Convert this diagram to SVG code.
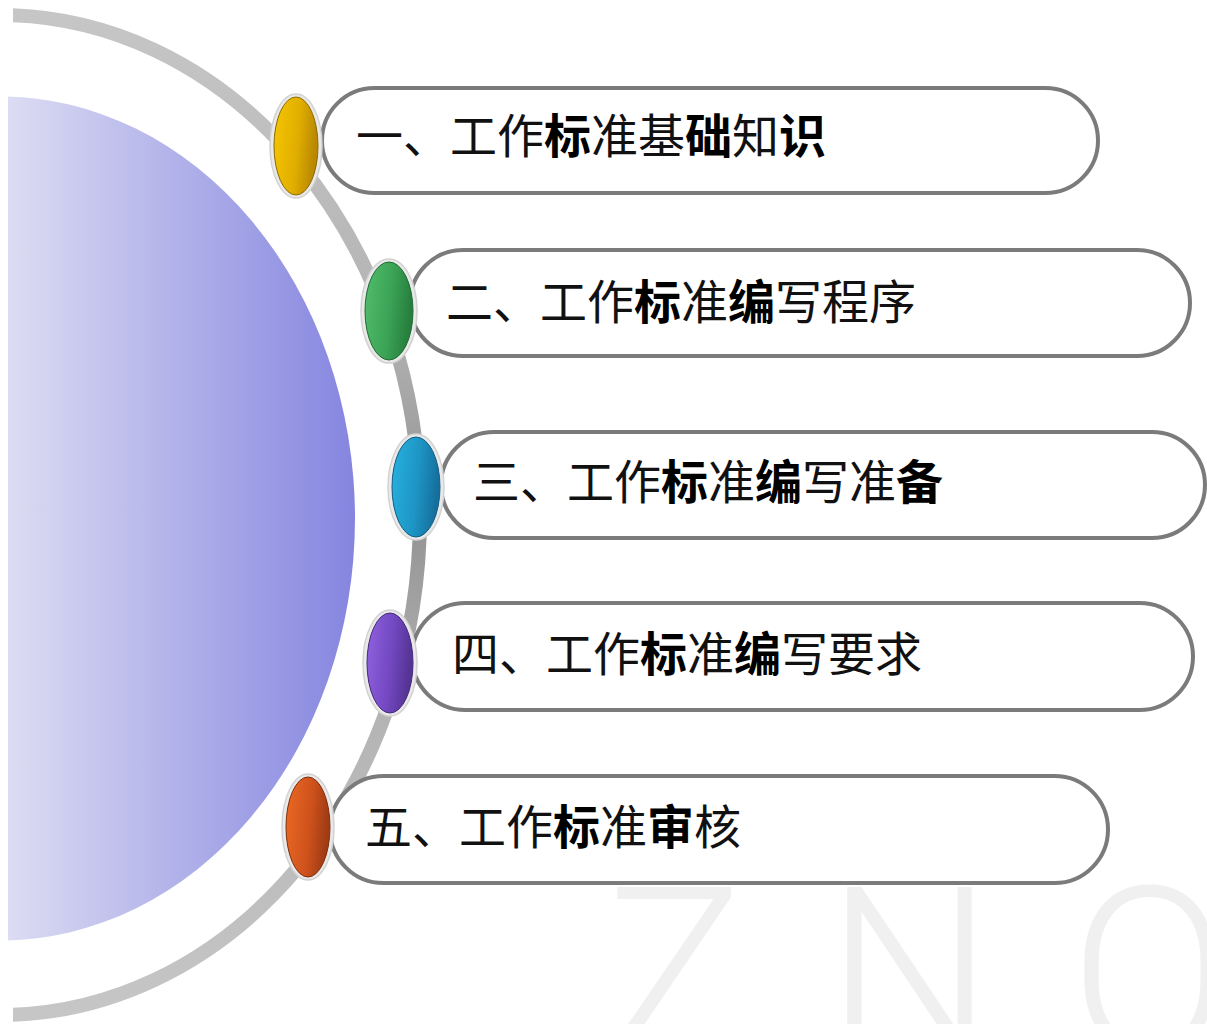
<svg xmlns="http://www.w3.org/2000/svg" width="1207" height="1024" viewBox="0 0 1207 1024">
<style>
.pill{fill:#ffffff;stroke:#7b7b7b;stroke-width:4}
.shadow{fill:none;stroke:#d6d6d6;stroke-width:3}
.lbl{font-family:"Noto Sans CJK SC","Noto Sans CJK JP",sans-serif;font-size:47px;fill:#111111}
.b{font-weight:700;fill:#000000}
.halo{fill:#e9e9e9;stroke:#d2d2d2;stroke-width:1.5}
.wm{font-family:Roboto,"Liberation Sans",sans-serif;font-weight:300;font-size:235px;fill:#f0f0f0}
</style>
<defs>
<linearGradient id="gPurple" gradientUnits="userSpaceOnUse" x1="8" y1="0" x2="355" y2="0">
<stop offset="0" stop-color="#dcdcf3"/>
<stop offset="1" stop-color="#8585e0"/>
</linearGradient>
<linearGradient id="gArc" gradientUnits="userSpaceOnUse" x1="0" y1="15" x2="0" y2="1015">
<stop offset="0" stop-color="#c6c6c6"/>
<stop offset="0.3" stop-color="#b4b4b4"/>
<stop offset="0.5" stop-color="#939393"/>
<stop offset="0.7" stop-color="#b4b4b4"/>
<stop offset="1" stop-color="#c6c6c6"/>
</linearGradient>
<clipPath id="clipArc"><rect x="13" y="0" width="600" height="1024"/></clipPath>
<clipPath id="clipPurple"><rect x="8" y="0" width="600" height="1024"/></clipPath>
<linearGradient id="gY" x1="0" y1="0" x2="1" y2="0.2"><stop offset="0" stop-color="#f7c600"/><stop offset="0.6" stop-color="#e0ae00"/><stop offset="1" stop-color="#b98800"/></linearGradient>
<linearGradient id="gG" x1="0" y1="0" x2="1" y2="0.2"><stop offset="0" stop-color="#52be6c"/><stop offset="0.6" stop-color="#3aa255"/><stop offset="1" stop-color="#277f3e"/></linearGradient>
<linearGradient id="gB" x1="0" y1="0" x2="1" y2="0.2"><stop offset="0" stop-color="#27b2e0"/><stop offset="0.6" stop-color="#1d94c4"/><stop offset="1" stop-color="#16709e"/></linearGradient>
<linearGradient id="gP" x1="0" y1="0" x2="1" y2="0.2"><stop offset="0" stop-color="#9262e0"/><stop offset="0.6" stop-color="#7247c0"/><stop offset="1" stop-color="#553494"/></linearGradient>
<linearGradient id="gO" x1="0" y1="0" x2="1" y2="0.2"><stop offset="0" stop-color="#ec6a24"/><stop offset="0.6" stop-color="#cf521c"/><stop offset="1" stop-color="#a03c14"/></linearGradient>
</defs>
<rect width="1207" height="1024" fill="#ffffff"/>
<text class="wm" x="604 826 1070" y="1055">ZNO</text>
<g id="disc">
<ellipse cx="0" cy="518.5" rx="355" ry="422" fill="url(#gPurple)" clip-path="url(#clipPurple)"/>
</g>
<g id="connectors">
<ellipse cx="0" cy="515" rx="420" ry="500" fill="none" stroke="url(#gArc)" stroke-width="14" clip-path="url(#clipArc)"/>
</g>
<g id="item1">
<rect class="pill" x="322" y="88" width="776" height="105" rx="52.5"/>
<text class="lbl" x="356" y="153">一、工作<tspan class="b">标</tspan>准基<tspan class="b">础</tspan>知<tspan class="b">识</tspan></text>
<ellipse class="halo" cx="296" cy="146" rx="26" ry="52"/>
<ellipse cx="296" cy="146" rx="22" ry="49" fill="url(#gY)" stroke="#8a6a00" stroke-width="1"/>
</g>
<g id="item2">
<rect class="pill" x="410" y="250" width="780" height="106" rx="53"/>
<text class="lbl" x="446" y="319">二、工作<tspan class="b">标</tspan>准<tspan class="b">编</tspan>写程序</text>
<ellipse class="halo" cx="389" cy="311" rx="28" ry="52"/>
<ellipse cx="389" cy="311" rx="24" ry="49" fill="url(#gG)" stroke="#1f6a33" stroke-width="1"/>
</g>
<g id="item3">
<rect class="pill" x="441" y="432" width="764" height="106" rx="53"/>
<text class="lbl" x="473" y="499">三、工作<tspan class="b">标</tspan>准<tspan class="b">编</tspan>写准<tspan class="b">备</tspan></text>
<ellipse class="halo" cx="416" cy="487" rx="28" ry="53"/>
<ellipse cx="416" cy="487" rx="24" ry="50" fill="url(#gB)" stroke="#125c82" stroke-width="1"/>
</g>
<g id="item4">
<rect class="pill" x="412" y="603" width="781" height="107" rx="53.5"/>
<text class="lbl" x="452" y="671">四、工作<tspan class="b">标</tspan>准<tspan class="b">编</tspan>写要求</text>
<ellipse class="halo" cx="390" cy="663" rx="27" ry="53"/>
<ellipse cx="390" cy="663" rx="23" ry="50" fill="url(#gP)" stroke="#42287a" stroke-width="1"/>
</g>
<g id="item5">
<rect class="pill" x="330" y="776" width="778" height="107" rx="53.5"/>
<text class="lbl" x="365" y="844">五、工作<tspan class="b">标</tspan>准<tspan class="b">审</tspan>核</text>
<ellipse class="halo" cx="308" cy="827" rx="26" ry="53"/>
<ellipse cx="308" cy="827" rx="22" ry="50" fill="url(#gO)" stroke="#7e2e0e" stroke-width="1"/>
</g>
</svg>
